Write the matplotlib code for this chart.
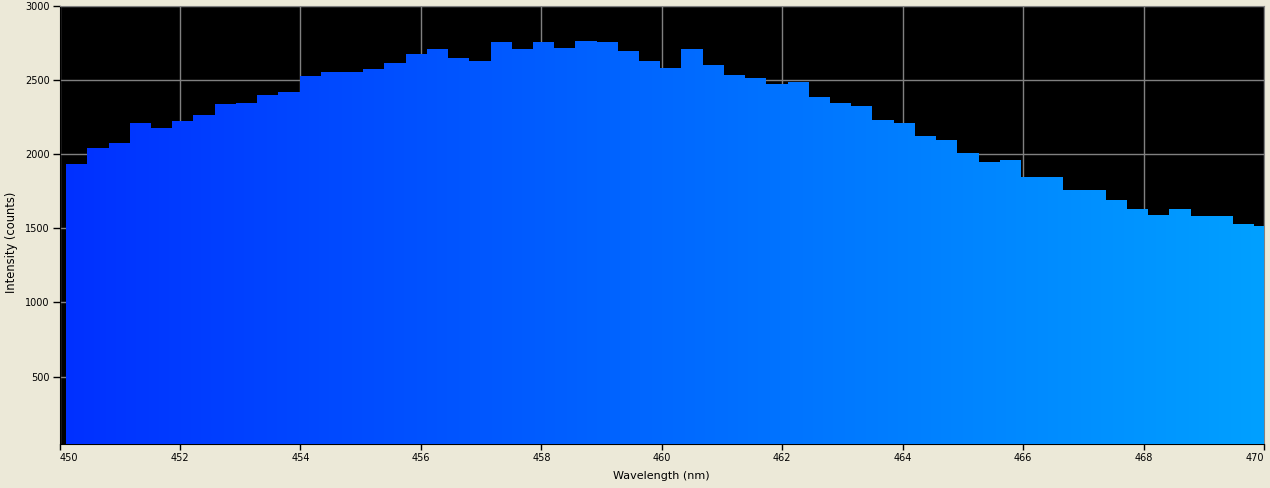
import numpy as np
import matplotlib.pyplot as plt
from matplotlib.colors import LinearSegmentedColormap

# spectrum bins (nm) and counts
bin_start = 450.11
bin_width = 0.3523
counts = [1933, 2041, 2075, 2210, 2176, 2223, 2263, 2338, 2345, 2398,
          2418, 2526, 2553, 2553, 2574, 2614, 2674, 2708, 2648, 2627,
          2755, 2708, 2755, 2715, 2762, 2755, 2695, 2627, 2580, 2708,
          2600, 2533, 2513, 2472, 2486, 2385, 2345, 2324, 2230, 2210,
          2122, 2095, 2007, 1947, 1960, 1846, 1846, 1758, 1758, 1691,
          1630, 1590, 1630, 1583, 1583, 1529, 1516]
x_ticks = [450, 452, 454, 456, 458, 460, 462, 464, 466, 468, 470]
y_ticks = [500, 1000, 1500, 2000, 2500, 3000]

edges = bin_start + bin_width * np.arange(len(counts) + 1)
vals = np.append(counts, counts[-1])

bg = '#ECE9D8'
fig = plt.figure(figsize=(12.7, 4.88), dpi=100, facecolor=bg)
ax = fig.add_axes([0.0469, 0.0895, 0.9484, 0.8988])
ax.set_facecolor('black')

ax.set_xticks(x_ticks)
ax.set_yticks(y_ticks)
ax.grid(True, color='#808080', linewidth=1)
ax.set_axisbelow(True)

# step outline used as clip for the gradient
poly = ax.fill_between(edges, 0, vals, step='post', color='none', zorder=2)

cmap = LinearSegmentedColormap.from_list('spec', ['#0030FF', '#00A0FF'])
grad = np.linspace(0, 1, 512).reshape(1, -1)
img = ax.imshow(grad, cmap=cmap, aspect='auto', extent=[450, 470, 0, 3000],
                zorder=3, interpolation='bilinear')
img.set_clip_path(poly.get_paths()[0], transform=ax.transData)
ax.set_xlim(450, 470)
ax.set_ylim(44, 3000)

for s in ['top', 'right']:
    ax.spines[s].set_color('#808080')
for s in ['left', 'bottom']:
    ax.spines[s].set_color('black')

ax.tick_params(axis='both', labelsize=7, width=1, colors='black', pad=2)
ax.tick_params(axis='y', length=5)
ax.tick_params(axis='x', length=4)
xl = ax.get_xticklabels()
xl[0].set_ha('left')
xl[-1].set_ha('right')
ax.set_xlabel('Wavelength (nm)', fontsize=8, labelpad=6)
ax.set_ylabel('Intensity (counts)', fontsize=8.3)
ax.yaxis.set_label_coords(-0.0349, 0.461)

fig.savefig('out.png', dpi=100, facecolor=bg)
